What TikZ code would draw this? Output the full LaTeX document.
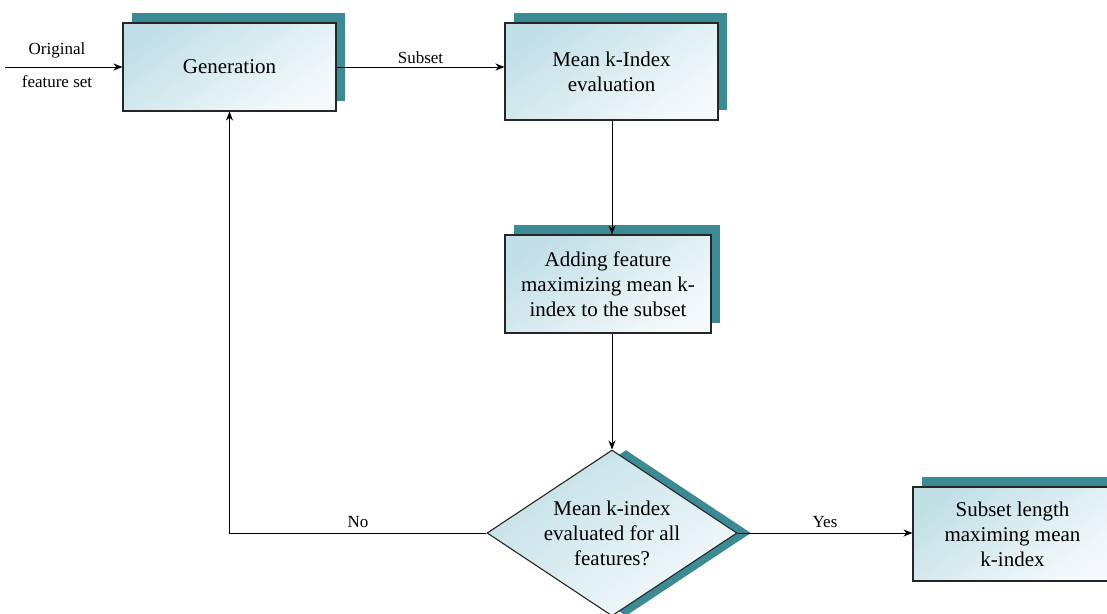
\documentclass[tikz,border=0pt]{standalone}
\usepackage{fontspec}
\setmainfont{Liberation Serif}
\usetikzlibrary{shapes.geometric,shadows,arrows.meta}
\definecolor{shadowteal}{RGB}{60,138,147}
\definecolor{boxtop}{RGB}{194,223,231}
\definecolor{boxbot}{RGB}{244,250,251}
\tikzset{
  arr/.style={draw=black, line width=0.9pt, -{Stealth[length=9pt,width=7pt]}},
  procbox/.style={rectangle, draw=black!85, line width=1.1pt,
    top color=boxtop, bottom color=boxbot, shading angle=35,
    align=center, inner sep=0pt,
    font=\fontsize{21}{25}\selectfont,
    general shadow={fill=shadowteal, shadow xshift=9pt, shadow yshift=10pt}},
  decbox/.style={diamond, draw=black!85, line width=1.1pt,
    top color=boxtop, bottom color=boxbot, shading angle=35,
    align=center, inner sep=0pt, aspect=1.5,
    font=\fontsize{21}{25}\selectfont,
    general shadow={fill=shadowteal, shadow xshift=14pt, shadow yshift=0pt}},
  lbl/.style={font=\fontsize{17}{19}\selectfont, inner sep=1pt}
}
\begin{document}
\begin{tikzpicture}[x=1pt,y=-1pt]
  \useasboundingbox (0,0) rectangle (1107,613);

  % process boxes
  \node[procbox, minimum width=213pt, minimum height=88pt] (gen) at (229.5,67) {Generation};
  \node[procbox, minimum width=213pt, minimum height=97pt] (mean) at (611.5,71.5) {Mean k-Index\\evaluation};
  \node[procbox, minimum width=206pt, minimum height=98pt] (add) at (608,284) {Adding feature\\maximizing mean k-\\index to the subset};
  \node[procbox, minimum width=199pt, minimum height=94pt] (res) at (1012.5,534) {Subset length\\maximing mean\\k-index};

  % decision
  \node[decbox, minimum width=250pt, minimum height=166pt] (dec) at (612,533) {Mean k-index\\evaluated for all\\features?};

  % input
  \coordinate (in) at (5,67);
  \draw[arr] (in) -- (gen.west);
  \node[lbl] at (57,50) {Original};
  \node[lbl] at (57,82) {feature set};

  % flow
  \draw[arr] (gen.east) -- (gen.east -| mean.west) node[lbl, midway, above=2pt] {Subset};
  \draw[arr] (dec.north |- mean.south) -- (dec.north |- add.north);
  \draw[arr] (dec.north |- add.south) -- (dec.north);
  \draw[arr] (dec.west) -| (gen.south) node[lbl, pos=0.25, above=4pt] {No};
  \draw[arr] (dec.east) -- (dec.east -| res.west) node[lbl, midway, above=4pt] {Yes};
\end{tikzpicture}
\end{document}
